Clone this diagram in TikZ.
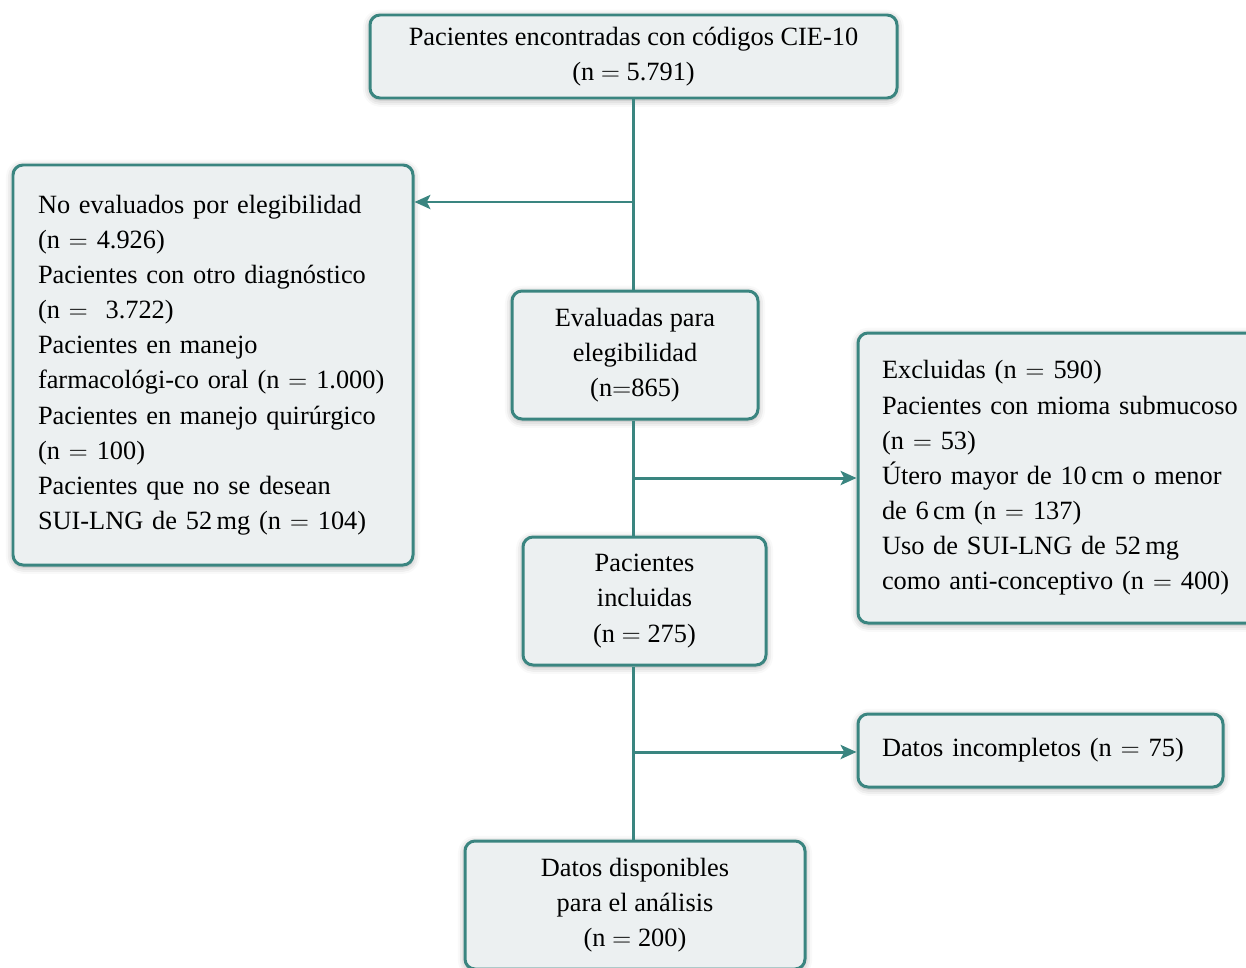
\documentclass[tikz,border=0pt]{standalone}
\usepackage{fontspec}
\setmainfont{Liberation Serif}
\usepackage{tikz}
\usetikzlibrary{arrows.meta,shadows.blur,calc}
\definecolor{tealline}{HTML}{3A8580}
\definecolor{boxfill}{HTML}{ECF0F1}
\newcommand{\linew}{1.7pt}
\newcommand{\txt}{\fontsize{15}{20}\selectfont\hyphenpenalty=10000}
\newcommand{\eq}{$=$}

\begin{document}
\begin{tikzpicture}[x=0.02cm,y=-0.02cm,
  fbox/.style={draw=tealline,fill=boxfill,line width=\linew,rounded corners=0.2cm,
    blur shadow={shadow xshift=0pt,shadow yshift=-1pt,shadow blur radius=4pt,shadow opacity=35},
    font=\txt,inner sep=0pt},
  conn/.style={draw=tealline,line width=\linew},
  arr/.style={conn,-{Stealth[length=9pt,width=8pt,inset=2pt]}}]
\useasboundingbox (0,0) rectangle (1246,967);
\node[fbox,minimum width=527*0.02cm,minimum height=83*0.02cm,align=center] (top) at (633.5,56.5)
  {Pacientes encontradas con códigos CIE-10\\(n \eq{} 5.791)};
\node[fbox,minimum width=400*0.02cm,minimum height=400*0.02cm,text width=350*0.02cm,align=left] (noeval) at (213,365)
  {No evaluados por elegibilidad\\(n \eq{} 4.926)\\Pacientes con otro diagnóstico\\(n \eq{}\ \ 3.722)\\Pacientes en manejo\\farmacológi-co oral (n \eq{} 1.000)\\Pacientes en manejo quirúrgico\\(n \eq{} 100)\\Pacientes que no se desean\\SUI-LNG de 52\,mg (n \eq{} 104)};
\node[fbox,minimum width=246*0.02cm,minimum height=128*0.02cm,align=center] (eval) at (635,355)
  {Evaluadas para\\elegibilidad\\(n\eq{}865)};
\node[fbox,minimum width=410*0.02cm,minimum height=290*0.02cm,text width=362*0.02cm,align=left] (excl) at (1063,478)
  {Excluidas (n \eq{} 590)\\Pacientes con mioma submucoso\\(n \eq{} 53)\\Útero mayor de 10\,cm o menor\\de 6\,cm (n \eq{} 137)\\Uso de SUI-LNG de 52\,mg\\como anti-conceptivo (n \eq{} 400)};
\node[fbox,minimum width=243*0.02cm,minimum height=128*0.02cm,align=center] (incl) at (644.5,601)
  {Pacientes\\incluidas\\(n \eq{} 275)};
\node[fbox,minimum width=365*0.02cm,minimum height=73*0.02cm,text width=317*0.02cm,align=left] (incompl) at (1040.5,750.5)
  {Datos incompletos (n \eq{} 75)};
\node[fbox,minimum width=340*0.02cm,minimum height=128*0.02cm,align=center] (final) at (635,905)
  {Datos disponibles\\para el análisis\\(n \eq{} 200)};
% trunk
\coordinate (b1) at (633,202);
\coordinate (b2) at (633,478);
\coordinate (b3) at (633,752);
\draw[conn] (top.south -| b1) -- (eval.north -| b1);
\draw[conn] (eval.south -| b1) -- (incl.north -| b1);
\draw[conn] (incl.south -| b1) -- (final.north -| b1);
% branches
\draw[arr] (b1) -- (noeval.east |- b1);
\draw[arr] (b2) -- (excl.west |- b2);
\draw[arr] (b3) -- (incompl.west |- b3);
\end{tikzpicture}
\end{document}
